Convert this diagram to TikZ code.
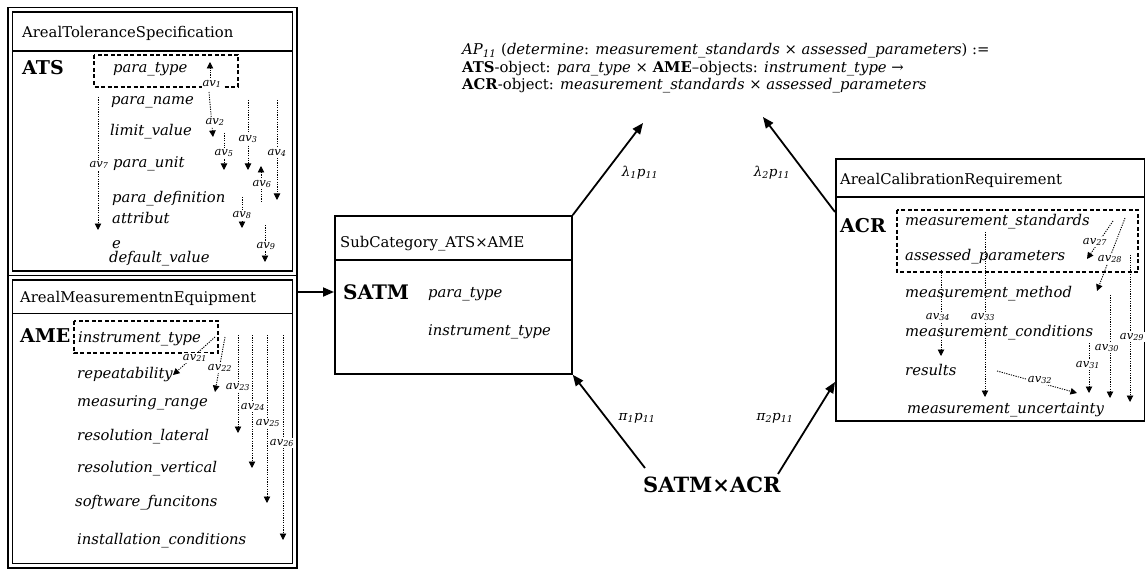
\documentclass[tikz,border=0pt]{standalone}
\usepackage{fontspec}
\setmainfont{DejaVu Serif}
\usetikzlibrary{arrows.meta}

\tikzset{
  rtxt/.style={inner sep=0pt, anchor=base west, font=\fontsize{14.8}{17}\selectfont},
  itxt/.style={inner sep=0pt, anchor=base west, font=\fontsize{14.8}{17}\selectfont\itshape},
  btxt/.style={inner sep=0pt, anchor=base west, font=\fontsize{19}{22}\selectfont\bfseries},
  outerline/.style={line width=1.8pt},
  innerline/.style={line width=1.3pt},
  selbox/.style={line width=1.8pt, dash pattern=on 4pt off 2.5pt},
  avline/.style={line width=0.9pt, dash pattern=on 1.2pt off 1.2pt,
    -{Triangle[length=6.5pt,width=6.5pt]}},
  avlab/.style={fill=white, inner sep=0.6pt, font=\fontsize{11.5}{13}\selectfont\itshape},
  morph/.style={line width=1.8pt, -{Triangle[length=11pt,width=9pt]}},
  mlab/.style={inner sep=0pt, font=\fontsize{13.5}{15}\selectfont\itshape},
}
\newcommand{\avn}[1]{av\textsubscript{#1}}

\begin{document}
\begin{tikzpicture}[x=1pt,y=-1pt]
\useasboundingbox[fill=white] (0,0) rectangle (1145,572);

% ---------- ArealToleranceSpecification ----------
\draw[outerline] (8,7.5) rectangle (297,275.5);
\draw[innerline] (12.5,12) rectangle (292.5,271);
\draw[innerline] (12.5,51) -- (292.5,51);
\node[rtxt] (atshead) at (22,38) {ArealToleranceSpecification};
\node[btxt] (ats) at (22,75) {ATS};
\draw[selbox] (94,55) rectangle (238,87);
\node[itxt] (ptype)  at (113,73)  {para\_type};
\node[itxt] (pname)  at (111,105) {para\_name};
\node[itxt] (plimit) at (110,136) {limit\_value};
\node[itxt] (punit)  at (113,168) {para\_unit};
\node[itxt] (pdef)   at (112,202) {para\_definition};
\node[itxt] (pattr)  at (112,223) {attribut};
\node[itxt] (pattre) at (112,248) {e};
\node[itxt] (pdflt)  at (109,262) {default\_value};

\draw[avline] (210,78) -- (210,62);
\draw[avline] (209,92) -- (213,137);
\draw[avline] (248,100) -- (248,170);
\draw[avline] (277,100) -- (277,200);
\draw[avline] (224,133) -- (224,170);
\draw[avline] (261,202) -- (261,166);
\draw[avline] (98,97) -- (98,230);
\draw[avline] (242,197) -- (242,228);
\draw[avline] (265,225) -- (265,262);
\node[avlab] at (212,84)  {\avn{1}};
\node[avlab] at (215,122) {\avn{2}};
\node[avlab] at (248,139) {\avn{3}};
\node[avlab] at (277,153) {\avn{4}};
\node[avlab] at (224,153) {\avn{5}};
\node[avlab] at (262,184) {\avn{6}};
\node[avlab] at (99,165)  {\avn{7}};
\node[avlab] at (242,215) {\avn{8}};
\node[avlab] at (266,246) {\avn{9}};

% ---------- ArealMeasurementnEquipment ----------
\draw[outerline] (8,275.5) rectangle (297,568);
\draw[innerline] (12.5,280) rectangle (292.5,563.5);
\draw[innerline] (12.5,313.3) -- (292.5,313.3);
\node[rtxt] (amehead) at (20,302) {ArealMeasurementnEquipment};
\node[btxt] (ame) at (20,342) {AME};
\draw[selbox] (74,320.7) rectangle (218,353.3);
\node[itxt] (itype) at (78,342) {instrument\_type};
\node[itxt] (rep)   at (77,378) {repeatability};
\node[itxt] (mrange) at (77,406) {measuring\_range};
\node[itxt] (rlat)  at (77,440) {resolution\_lateral};
\node[itxt] (rvert) at (77,472) {resolution\_vertical};
\node[itxt] (soft)  at (75,506) {software\_funcitons};
\node[itxt] (inst)  at (77,544) {installation\_conditions};

\draw[avline] (215,337) -- (173,375);
\draw[avline] (225,337) -- (215,392);
\draw[avline] (238,335) -- (238,433);
\draw[avline] (252,335) -- (252,468);
\draw[avline] (267,335) -- (267,503);
\draw[avline] (283,335) -- (283,540);
\node[avlab] at (195,358) {\avn{21}};
\node[avlab] at (220,368) {\avn{22}};
\node[avlab] at (238,387) {\avn{23}};
\node[avlab] at (253,407) {\avn{24}};
\node[avlab] at (268,423) {\avn{25}};
\node[avlab] at (282,443) {\avn{26}};

% ---------- SubCategory box ----------
\node[draw, line width=1.8pt, minimum width=237pt, minimum height=158pt,
      anchor=north west, inner sep=0pt] (satm) at (334,215) {};
\draw[line width=1.8pt] (334,260) -- (571,260);
\node[rtxt] (satmhead) at (340,247) {SubCategory\_ATS×AME};
\node[btxt, font=\fontsize{20}{23}\selectfont\bfseries] (satmname) at (343,299) {SATM};
\node[itxt] (satmp) at (428,297) {para\_type};
\node[itxt] (satmi) at (428,335) {instrument\_type};

\coordinate (amehook) at (297,292);
\draw[morph] (amehook) -- (satm.west |- amehook);

% ---------- ArealCalibrationRequirement ----------
\node[draw, line width=1.8pt, minimum width=308.5pt, minimum height=261.7pt,
      anchor=north west, inner sep=0pt] (acr) at (835,158.3) {};
\draw[line width=1.8pt] (835,196.7) -- (1143.5,196.7);
\node[rtxt] (acrhead) at (840,185) {ArealCalibrationRequirement};
\node[btxt] (acrname) at (840,232) {ACR};
\draw[selbox] (897,210) rectangle (1138,272);
\node[itxt] (mstd)  at (905,225) {measurement\_standards};
\node[itxt] (apar)  at (905,260) {assessed\_parameters};
\node[itxt] (mmeth) at (905,297) {measurement\_method};
\node[itxt] (mcond) at (905,336) {measurement\_conditions};
\node[itxt] (res)   at (905,375) {results};
\node[itxt] (munc)  at (907,413) {measurement\_uncertainty};

\draw[avline] (1113,221) -- (1087,259);
\draw[avline] (1125,218) -- (1097,291);
\draw[avline] (1130,255) -- (1130,402);
\draw[avline] (1110,295) -- (1110,398);
\draw[avline] (1089,343) -- (1089,393);
\draw[avline] (997,371) -- (1077,393);
\draw[avline] (985,232) -- (985,397);
\draw[avline] (941,270) -- (941,356);
\node[avlab] at (1095,242) {\avn{27}};
\node[avlab] at (1110,259) {\avn{28}};
\node[avlab] at (1132,337) {\avn{29}};
\node[avlab] at (1107,348) {\avn{30}};
\node[avlab] at (1088,365) {\avn{31}};
\node[avlab] at (1040,380) {\avn{32}};
\node[avlab] at (983,317)  {\avn{33}};
\node[avlab] at (938,317)  {\avn{34}};

% ---------- product and morphisms ----------
\node[btxt, font=\fontsize{21}{24}\selectfont\bfseries] (prod) at (643,492) {SATM×ACR};
\coordinate (prodl) at (645,468);
\coordinate (prodr) at (778,474);
\coordinate (acrlow) at (835,382);
\coordinate (acrhigh) at (835,212);
\coordinate (lam1) at (643,123);
\coordinate (lam2) at (763,117);

\draw[morph] (satm.north east) -- (lam1);
\draw[morph] (acrhigh) -- (lam2);
\draw[morph] (prodl) -- (satm.south east);
\draw[morph] (prodr) -- (acrlow);

\node[mlab] at (640,173) {λ\textsubscript{1}p\textsubscript{11}};
\node[mlab] at (772,173) {λ\textsubscript{2}p\textsubscript{11}};
\node[mlab] at (637,418) {π\textsubscript{1}p\textsubscript{11}};
\node[mlab] at (775,418) {π\textsubscript{2}p\textsubscript{11}};

% ---------- AP11 definition ----------
\node[rtxt] (ap1) at (462,55) {{\itshape AP\textsubscript{11}} ({\itshape determine}: {\itshape measurement\_standards} × {\itshape assessed\_parameters}) :=};
\node[rtxt] (ap2) at (462,73) {\textbf{ATS}-object: {\itshape para\_type} × \textbf{AME}–objects: {\itshape instrument\_type} →};
\node[rtxt] (ap3) at (462,90) {\textbf{ACR}-object: {\itshape measurement\_standards} × {\itshape assessed\_parameters}};
\end{tikzpicture}
\end{document}
